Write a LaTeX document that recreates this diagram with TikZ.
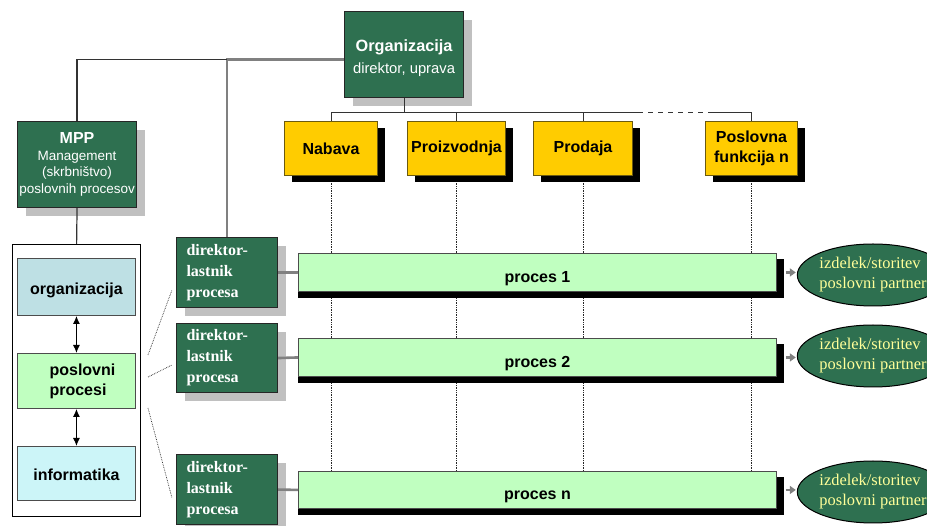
\documentclass[tikz,border=0pt]{standalone}
\usepackage{fontspec}
\setmainfont{Liberation Serif}
\setsansfont{Liberation Sans}
\usetikzlibrary{shapes.geometric,shadows,backgrounds,arrows.meta}

\definecolor{dkgreen}{HTML}{2E7050}
\definecolor{funcyellow}{HTML}{FFCC00}
\definecolor{funcedge}{HTML}{6B5A10}
\definecolor{procgreen}{HTML}{C0FFC0}
\definecolor{orgblue}{HTML}{BEE0E4}
\definecolor{infocyan}{HTML}{CCF5F8}
\definecolor{shadowgrey}{HTML}{C0C0C0}
\definecolor{linegrey}{HTML}{808080}
\definecolor{partnertext}{HTML}{FFFF99}

\tikzset{
  box/.style={anchor=north west, inner sep=0pt, align=center},
  greenbox/.style={box, draw=black!85, line width=1.1pt, fill=dkgreen, text=white,
    general shadow={fill=shadowgrey, shadow xshift=8pt, shadow yshift=-8pt}},
  funcbox/.style={box, draw=funcedge, line width=1pt, fill=funcyellow,
    font=\sffamily\bfseries\fontsize{16}{20}\selectfont,
    general shadow={fill=black, shadow xshift=7pt, shadow yshift=-7pt}},
  ownerbox/.style={greenbox, minimum width=101pt, align=left, text width=81pt,
    inner xsep=10pt, inner ysep=0pt, font=\bfseries\fontsize{16}{21}\selectfont},
  procbar/.style={box, draw=black!70, line width=0.9pt, fill=procgreen,
    minimum width=478pt, text height=20pt, text depth=0pt,
    font=\sffamily\bfseries\fontsize{16}{20}\selectfont},
  sidebox/.style={box, draw=black!70, line width=0.9pt, minimum width=118pt,
    font=\sffamily\bfseries\fontsize{16}{20}\selectfont},
  greentext/.style={inner sep=0pt, align=center, text=white},
  partner/.style={ellipse, draw=black, line width=1pt, fill=dkgreen, text=partnertext,
    minimum width=150pt, minimum height=62pt, inner sep=0pt, align=left,
    font=\fontsize{16.4}{20}\selectfont},
  darkline/.style={draw=black!80, line width=1.2pt},
  greyline/.style={draw=linegrey, line width=2.6pt},
  greyarrow/.style={draw=linegrey, line width=2.4pt, -{Triangle[length=6pt,width=8pt]}},
  dblarrow/.style={draw=black, line width=1.2pt, {Latex[length=8pt,width=7pt]}-{Latex[length=8pt,width=7pt]}},
  guide/.style={draw=black!85, line width=0.7pt, densely dotted},
}

\begin{document}
\begin{tikzpicture}[x=1pt, y=-1pt]
\useasboundingbox (0,0) rectangle (927,526);

% top of the hierarchy
\node[greenbox, minimum width=119pt, minimum height=86pt] (org) at (344,11) {};
\node[greentext, font=\sffamily\fontsize{16}{22}\selectfont] (orgtext) at ([yshift=-4pt]org.center)
  {\bfseries\fontsize{16.3}{22}\selectfont Organizacija\\
   \fontsize{14.8}{22}\selectfont direktor, uprava};
\node[greenbox, minimum width=119pt, minimum height=86pt,
      font=\sffamily\fontsize{13.5}{16.7}\selectfont] (mpp) at (17,121)
  {\bfseries\fontsize{16}{16.7}\selectfont MPP\\
   Management\\(skrbništvo)\\poslovnih procesov};

% business functions
\node[funcbox, minimum width=93pt, minimum height=54pt] (nabava) at (284,121) {Nabava};
\node[funcbox, minimum width=98pt, minimum height=54pt] (proizv) at (407,121) {Proizvodnja};
\node[funcbox, minimum width=99pt, minimum height=54pt] (prodaja) at (533,121) {Prodaja};
\node[funcbox, minimum width=92pt, minimum height=54pt] (poslovna) at (705,121) {Poslovna\\funkcija n};

% left column: organisation / processes / IT
\node[box, draw=black, line width=1.2pt, fill=white, minimum width=128pt, minimum height=272pt] (frame) at (12,244) {};
\node[sidebox, fill=orgblue, minimum height=57pt, text height=16pt, text depth=0pt] (orgL) at (17,258) {organizacija};
\node[sidebox, fill=procgreen, minimum height=55pt, align=left] (posl) at (17,353) {\hspace*{12pt}poslovni\\\hspace*{12pt}procesi};
\node[sidebox, fill=infocyan, minimum height=54pt, text height=15pt, text depth=0pt] (info) at (17,446) {informatika};

% process owners
\node[ownerbox, minimum height=70pt] (dir1) at (176,237) {direktor-\\lastnik\\procesa};
\node[ownerbox, minimum height=69pt] (dir2) at (176,323) {direktor-\\lastnik\\procesa};
\node[ownerbox, minimum height=70pt] (dir3) at (176,454) {direktor-\\lastnik\\procesa};

% processes
\node[procbar, minimum height=38pt] (p1) at (298,253) {proces 1};
\node[procbar, minimum height=38pt] (p2) at (298,338) {proces 2};
\node[procbar, minimum height=37pt] (pn) at (298,471) {proces n};

% outputs
\node[partner] (e1) at (873,275) {izdelek/storitev\\poslovni partner};
\node[partner] (e2) at (873,356) {izdelek/storitev\\poslovni partner};
\node[partner] (e3) at (873,492) {izdelek/storitev\\poslovni partner};

\begin{pgfonlayer}{background}
  % functions run down through all processes
  \foreach \f in {nabava,proizv,prodaja,poslovna}
    \draw[guide] (\f.south) -- (\f.south |- pn.north);
  % process bar shadows
  \foreach \p in {p1,p2,pn}
    \fill[black] ([yshift=-6pt]\p.north west) rectangle ([xshift=7pt,yshift=-6pt]\p.south east);
\end{pgfonlayer}

% management links
\coordinate (tap) at ([yshift=-5pt]org.west);
\coordinate (split) at (dir1.north |- tap);
\draw[greyline] (tap) -- (split) -- (dir1.north);
\draw[darkline] (split) -- (mpp.north |- tap) -- (mpp.north);
\draw[darkline] (mpp.south) -- (frame.north);

% function bus
\path (nabava.north) ++(0,-8) coordinate (busL);
\path (poslovna.north) ++(0,-8) coordinate (busR);
\coordinate (gapA) at (638,113);
\coordinate (gapB) at (708,113);
\draw[darkline, line width=1pt] (org.south) -- (org.south |- busL);
\draw[darkline, line width=1pt] (busL) -- (gapA);
\draw[darkline, line width=1pt, dash pattern=on 5pt off 5pt] (gapA) -- (gapB);
\draw[darkline, line width=1pt] (gapB) -- (busR);
\foreach \f in {nabava,proizv,prodaja,poslovna}
  \draw[darkline, line width=1pt] (\f.north |- busL) -- (\f.north);

% left column arrows
\draw[dblarrow] (orgL.south) -- (posl.north);
\draw[dblarrow] (posl.south) -- (info.north);

% fan from business processes to owners
\coordinate (f1a) at (148,355); \coordinate (f1b) at (172,290);
\coordinate (f2a) at (148,377); \coordinate (f2b) at (172,365);
\coordinate (f3a) at (148,408); \coordinate (f3b) at (172,498);
\draw[guide] (f1a) -- (f1b);
\draw[guide] (f2a) -- (f2b);
\draw[guide] (f3a) -- (f3b);

% owners to processes, processes to outputs
\foreach \d/\p/\e in {dir1/p1/e1, dir2/p2/e2, dir3/pn/e3} {
  \draw[greyline] (\d.east) -- (\p.west);
  \draw[greyarrow] ([xshift=9pt]\p.east) -- ([xshift=-1pt]\p.east -| \e.west);
}
\end{tikzpicture}
\end{document}
